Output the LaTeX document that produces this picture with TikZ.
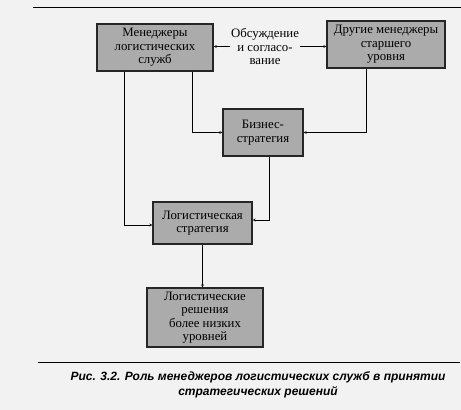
\documentclass[tikz,border=0pt]{standalone}
\usepackage{fontspec}
\setmainfont{Liberation Serif}
\newfontfamily\capfont{Liberation Sans}
\usetikzlibrary{positioning,shadows}

\begin{document}
\begin{tikzpicture}[
    x=1pt, y=-1pt,
    box/.style={draw=black!85, line width=1.1pt, fill=black!33, align=center,
      font=\fontsize{12.8}{13.4}\selectfont, inner sep=1pt,
      drop shadow={shadow xshift=1pt, shadow yshift=-1pt, fill=black!55}},
    >=stealth
  ]
  \useasboundingbox[fill=black!5] (0,0) rectangle (461,410);
  % rules of the page
  \draw[line width=0.8pt] (33,7) -- (461,7);
  \draw[line width=0.8pt] (38,362) -- (460,362);
  % boxes
  \node[box, minimum width=116pt, minimum height=47pt] (log) at (155,47.5) {Менеджеры\\логистических\\служб};
  \node[box, minimum width=118pt, minimum height=47pt] (top) at (386,44.5) {Другие менеджеры\\старшего\\уровня};
  \node[box, minimum width=80pt, minimum height=47pt] (biz) at (263,132.5) {Бизнес-\\стратегия};
  \node[box, minimum width=99pt, minimum height=42pt] (lstrat) at (202.5,223) {Логистическая\\стратегия};
  \node[box, minimum width=116pt, minimum height=59pt] (low) at (205,317.5) {Логистические\\решения\\более низких\\уровней};
  \node[align=center, font=\fontsize{12.8}{13.4}\selectfont, inner sep=1pt] (talk) at (265,46.5) {Обсуждение\\и согласо-\\вание};
  % connectors
  \draw[->] (talk.west) -- (talk.west -| log.east);
  \draw[->] (talk.east) -- (talk.east -| top.west);
  \draw[->] ([xshift=37pt]log.south) |- (biz.west);
  \draw[->] ([xshift=-20pt]top.south) |- (biz.east);
  \draw[->] ([xshift=-31pt]log.south) |- ([yshift=-2pt]lstrat.west);
  \draw[->] ([xshift=6pt]biz.south) |- ([yshift=3pt]lstrat.east);
  \draw[->] (lstrat.south) -- (lstrat.south |- low.north);
  % caption
  \node[align=center, font=\capfont\bfseries\itshape\fontsize{12}{15}\selectfont] (cap) at (258,385)
    {Рис. 3.2. Роль менеджеров логистических служб в принятии\\стратегических решений};
\end{tikzpicture}
\end{document}
